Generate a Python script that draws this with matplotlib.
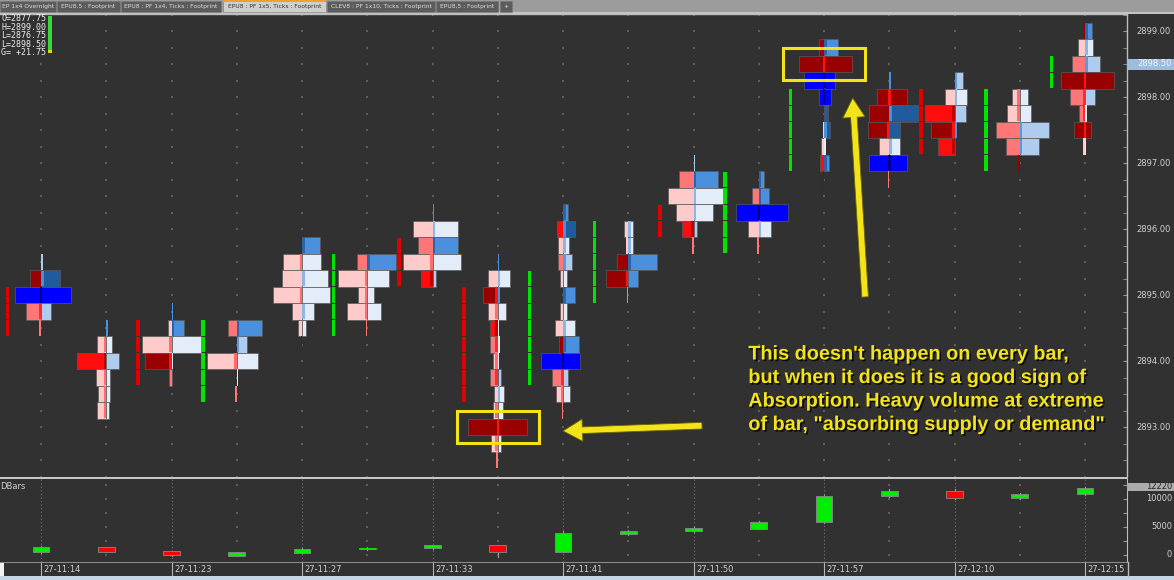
import numpy as np
import matplotlib
matplotlib.use("Agg")
import matplotlib.pyplot as plt
from matplotlib.patches import Rectangle
from matplotlib.ticker import FormatStrFormatter, MultipleLocator, FixedLocator
from matplotlib.transforms import blended_transform_factory
from matplotlib import patheffects as pe

# ---------------------------------------------------------------------------
# data
# footprint rows per bar: (price, bid volume, ask volume, bid level, ask level)
# level 0..3 = imbalance strength, 4 = buy volume node, 5 = sell volume node
# ---------------------------------------------------------------------------
BAR_00 = [(2895.50, 0, 15, 0, 1), (2895.25, 110, 190, 3, 3), (2895.00, 260, 300, 4, 4),
          (2894.75, 150, 100, 1, 1), (2894.50, 20, 0, 1, 0)]
BAR_01 = [(2894.50, 0, 15, 0, 2), (2894.25, 90, 60, 0, 0), (2894.00, 290, 130, 2, 1),
          (2893.75, 100, 40, 0, 0), (2893.50, 80, 40, 0, 0), (2893.25, 90, 30, 0, 0)]
BAR_02 = [(2894.75, 0, 15, 0, 2), (2894.50, 40, 127, 0, 2), (2894.25, 300, 290, 0, 0),
          (2894.00, 270, 10, 3, 0), (2893.75, 30, 0, 1, 0)]
BAR_03 = [(2894.50, 90, 250, 1, 2), (2894.25, 0, 100, 0, 1), (2894.00, 300, 210, 0, 0),
          (2893.75, 0, 15, 0, 0), (2893.50, 15, 0, 1, 0)]
BAR_04 = [(2895.75, 15, 180, 3, 2), (2895.50, 190, 190, 0, 0), (2895.25, 200, 260, 0, 0),
          (2895.00, 290, 280, 0, 0), (2894.75, 100, 120, 0, 0), (2894.50, 40, 40, 0, 0),
          (2894.25, 15, 0, 3, 0)]
BAR_05 = [(2895.50, 100, 290, 1, 2), (2895.25, 290, 220, 0, 0), (2895.00, 90, 70, 0, 0),
          (2894.75, 200, 140, 0, 0), (2894.50, 15, 0, 1, 0)]
BAR_06 = [(2896.25, 0, 15, 0, 2), (2896.00, 200, 250, 0, 0), (2895.75, 150, 250, 1, 2),
          (2895.50, 300, 280, 0, 0), (2895.25, 120, 30, 2, 1)]
BAR_07 = [(2895.50, 0, 15, 0, 2), (2895.25, 100, 120, 0, 0), (2895.00, 150, 20, 3, 2),
          (2894.75, 100, 80, 0, 0), (2894.50, 80, 10, 2, 0), (2894.25, 80, 20, 1, 0),
          (2894.00, 50, 10, 0, 0), (2893.75, 80, 30, 1, 1), (2893.50, 40, 60, 0, 0),
          (2893.25, 50, 50, 0, 0), (2893.00, 300, 290, 5, 5), (2892.75, 70, 30, 0, 0),
          (2892.50, 15, 0, 1, 0)]
BAR_08 = [(2896.25, 0, 50, 0, 2), (2896.00, 60, 120, 2, 3), (2895.75, 50, 60, 0, 0),
          (2895.50, 50, 90, 1, 1), (2895.25, 30, 40, 0, 0), (2895.00, 0, 120, 0, 2),
          (2894.75, 30, 40, 0, 0), (2894.50, 80, 120, 0, 0), (2894.25, 40, 160, 3, 2),
          (2894.00, 220, 170, 4, 4), (2893.75, 110, 50, 1, 1), (2893.50, 70, 70, 0, 0),
          (2893.25, 15, 0, 1, 0)]
BAR_09 = [(2896.00, 40, 50, 0, 0), (2895.75, 20, 50, 0, 0), (2895.50, 110, 290, 3, 2),
          (2895.25, 220, 100, 3, 2), (2895.00, 15, 0, 1, 0)]
BAR_10 = [(2897.00, 0, 15, 0, 1), (2896.75, 150, 240, 1, 2), (2896.50, 260, 290, 0, 0),
          (2896.25, 180, 190, 0, 0), (2896.00, 120, 30, 2, 1), (2895.75, 15, 0, 1, 0)]
BAR_11 = [(2896.75, 0, 50, 0, 2), (2896.50, 70, 100, 1, 2), (2896.25, 230, 290, 4, 4),
          (2896.00, 110, 120, 0, 0), (2895.75, 15, 0, 1, 0)]
BAR_12 = [(2898.75, 50, 140, 3, 2), (2898.50, 250, 280, 5, 5), (2898.25, 200, 110, 4, 4),
          (2898.00, 50, 70, 4, 4), (2897.75, 0, 40, 0, 3), (2897.50, 10, 60, 0, 3),
          (2897.25, 30, 20, 0, 0), (2897.00, 40, 50, 2, 2), (2896.75, 15, 0, 3, 0)]
BAR_13 = [(2898.25, 0, 15, 0, 2), (2898.00, 120, 180, 5, 5), (2897.75, 200, 290, 3, 3),
          (2897.50, 210, 110, 3, 3), (2897.25, 100, 110, 0, 0), (2897.00, 200, 180, 4, 4),
          (2896.75, 15, 0, 1, 0)]
BAR_14 = [(2898.25, 0, 80, 0, 1), (2898.00, 100, 120, 0, 0), (2897.75, 300, 110, 2, 1),
          (2897.50, 240, 20, 3, 2), (2897.25, 170, 0, 2, 0)]
BAR_15 = [(2898.00, 80, 80, 0, 0), (2897.75, 130, 110, 0, 0), (2897.50, 240, 290, 1, 1),
          (2897.25, 140, 190, 1, 1), (2897.00, 15, 0, 3, 0)]
BAR_16 = [(2899.00, 20, 70, 3, 2), (2898.75, 70, 80, 0, 0), (2898.50, 130, 150, 1, 1),
          (2898.25, 240, 290, 5, 5), (2898.00, 150, 100, 1, 1), (2897.75, 60, 20, 1, 0),
          (2897.50, 110, 60, 5, 5), (2897.25, 20, 10, 0, 0)]
FOOTPRINTS = [BAR_00, BAR_01, BAR_02, BAR_03, BAR_04, BAR_05, BAR_06, BAR_07, BAR_08,
              BAR_09, BAR_10, BAR_11, BAR_12, BAR_13, BAR_14, BAR_15, BAR_16]

# open / close body markers (None = not drawn)
BODY_OPEN = [2895.00, None, 2894.50, 2893.50, None, 2894.50, 2895.75, 2895.00, 2893.75,
             2895.00, 2896.25, 2895.75, 2897.00, None, 2898.00, 2897.00, 2898.25]
BODY_CLOSE = [2894.50, None, 2893.75, 2894.50, None, 2895.50, 2895.25, 2893.50, 2895.25,
              2896.00, 2896.00, 2896.75, 2898.00, None, 2897.25, 2898.00, 2898.50]

# lower study (delta bars)
DB_OPEN = [500, 1400, 700, -100, 400, 1100, 1200, 1700, 500, 3800, 4200, 4700, 5900,
           10500, 11400, 10100, 10900]
DB_CLOSE = [1400, 600, -50, 450, 1100, 1250, 1700, 500, 3900, 4300, 4800, 5900, 10500,
            11400, 10100, 10900, 12000]
DB_HIGH = [1550, 1450, 750, 500, 1200, 1350, 1800, 1750, 4300, 4500, 5000, 6000, 10800,
           11700, 11700, 11100, 12220]
DB_LOW = [350, 500, -200, -200, 300, 950, 1100, -300, 450, 3600, 4100, 4600, 5800,
          10300, 10000, 10000, 10800]

TIME_LABEL_BARS = [0, 2, 4, 6, 8, 10, 12, 14, 16]
TIME_LABELS = ["27-11:14", "27-11:23", "27-11:27", "27-11:33", "27-11:41",
               "27-11:50", "27-11:57", "27-12:10", "27-12:15"]

PRICE_TICKS = [2893, 2894, 2895, 2896, 2897, 2898, 2899]
DB_TICKS = [0, 5000, 10000]
LAST_PRICE = 2898.50
LAST_DB = 12220

ABSORPTION = [(7, 2893.00), (12, 2898.50)]
HEADER = ["O=2877.75", "H=2899.00", "L=2876.75", "L=2898.50", "G= +21.75"]
TABS = ["EP 1x4 Overnight", "EPU8,5 : Footprint", "EPU8 : PF 1x4, Ticks : Footprint",
        "EPU8 : PF 1x5, Ticks : Footprint", "CLEV8 : PF 1x10, Ticks : Footprint",
        "EPU8,5 : Footprint", "+"]
NOTE = ("This doesn't happen on every bar,\n"
        "but when it does it is a good sign of\n"
        "Absorption. Heavy volume at extreme\n"
        "of bar, \"absorbing supply or demand\"")

# ---------------------------------------------------------------------------
# layout / style
# ---------------------------------------------------------------------------
W, H = 1174, 580
BAR_PX = 65.25          # pixels per bar
PX_PER_PT = 66.0        # pixels per 1.00 of price
VOL_SCALE = 1 / 652.5   # bar units per contract
ROW = 0.25

BG = "#313131"
GRID = "#5e5e5e"
TXT = "#d2d2d2"
YEL = "#f3e41a"
RED = ["#ffcaca", "#ff7676", "#ff0d0d", "#9b0000"]
BLUE = ["#e3edf9", "#afcbee", "#4b90dc", "#1f5b9d"]
STRIPE_RED = ["#ff6c6c", "#ff2a2a", "#c00000", "#ff1414"]
STRIPE_BLUE = ["#8cb6ea", "#5c98de", "#2a64aa", "#4b90dc"]
NODE = {4: ("#0000ff", "#00008c"), 5: ("#990000", "#ff1414")}
EDGE = "#5a5a5a"

fig = plt.figure(figsize=(W / 100, H / 100), dpi=100)
fig.patch.set_facecolor(BG)

x_left = -41 / BAR_PX
x_right = (1127 - 41) / BAR_PX

# ---------------- main footprint panel ----------------
ax = fig.add_axes([0, 104 / H, 1127 / W, 462 / H])
ax.set_facecolor(BG)
ax.set_xlim(x_left, x_right)
ax.set_ylim(2899 - 445 / PX_PER_PT, 2899 + 17 / PX_PER_PT)
for s in ["left", "bottom"]:
    ax.spines[s].set_visible(False)
for s in ["right", "top"]:
    ax.spines[s].set_color("#bdbdbd")
    ax.spines[s].set_linewidth(1.0)
ax.set_xticks([])
ax.yaxis.tick_right()
ax.yaxis.set_major_locator(FixedLocator(PRICE_TICKS))
ax.yaxis.set_major_formatter(FormatStrFormatter("%.2f"))
ax.yaxis.set_minor_locator(MultipleLocator(0.25))
ax.tick_params(axis="y", which="both", direction="in", length=3, color="#9a9a9a",
               labelsize=6, labelcolor=TXT, pad=7)

# background dots
n_bars = len(FOOTPRINTS)
gx, gy = np.meshgrid(np.arange(n_bars), np.arange(2892.25, 2899.3, 0.25))
ax.scatter(gx.ravel(), gy.ravel(), s=0.8, marker="s", c=GRID, lw=0, zorder=1)

px = 1 / BAR_PX
for i, rows in enumerate(FOOTPRINTS):
    for price, bid, ask, bl, al in rows:
        y0 = price - ROW / 2
        if bl in NODE:
            bc = ac = NODE[bl][0]
        else:
            bc, ac = RED[bl], BLUE[al]
        for x, w, c in ((i - bid * VOL_SCALE, bid * VOL_SCALE, bc),
                        (i, ask * VOL_SCALE, ac)):
            if w <= 0:
                continue
            thin = w < 2.5 * px
            ax.add_patch(Rectangle((x, y0), w, ROW, fc=c,
                                   ec="none" if thin else EDGE, lw=0.5, zorder=3))
        if max(bid, ask) >= 50:
            sw = 2.5 * px
            if bl in NODE:
                sx, sc = i - sw / 2, NODE[bl][1]
            elif bid >= ask:
                sx, sc = i - sw, STRIPE_RED[bl]
            else:
                sx, sc = i, STRIPE_BLUE[al]
            ax.add_patch(Rectangle((sx, y0 + 0.6 / PX_PER_PT), sw, ROW - 1.2 / PX_PER_PT,
                                   fc=sc, ec="none", zorder=4))

# open/close body markers left of each bar
gap = 0.45 / PX_PER_PT
for i, (o, c) in enumerate(zip(BODY_OPEN, BODY_CLOSE)):
    if o is None:
        continue
    col = "#00e400" if c > o else "#e00000"
    lo, hi = min(o, c), max(o, c)
    for p in np.arange(lo, hi + 0.01, ROW):
        ax.add_patch(Rectangle((i - 0.515 - 1.8 * px, p - ROW / 2 + gap), 3.6 * px,
                               ROW - 2 * gap, fc=col, ec="none", zorder=3))

# absorption boxes
for b, p in ABSORPTION:
    ax.add_patch(Rectangle((b - 0.63, p - 0.245), 1.26, 0.49, fill=False, ec=YEL,
                           lw=2.2, zorder=6))

arrow = dict(arrowstyle="simple,head_length=1.0,head_width=1.15,tail_width=0.34",
             mutation_scale=14, fc=YEL, ec="#6b6200", lw=0.6, shrinkA=0, shrinkB=0)
ax.annotate("", xy=(8.0, 2892.94), xytext=(10.13, 2893.02), arrowprops=arrow, zorder=7)
ax.annotate("", xy=(12.44, 2897.985), xytext=(12.63, 2894.97), arrowprops=arrow, zorder=7)

ax.text(10.84, 2894.25, NOTE, color=YEL, fontsize=14.3, fontweight="bold",
        family="Liberation Sans", va="top", ha="left", linespacing=1.3, zorder=8,
        path_effects=[pe.withSimplePatchShadow(offset=(1.2, -1.2),
                                               shadow_rgbFace="black", alpha=0.75)])

# last price marker on the scale
ax.add_patch(Rectangle((1.0, LAST_PRICE - 5.5 / PX_PER_PT), 47 / 1127, 11 / PX_PER_PT,
                       transform=blended_transform_factory(ax.transAxes, ax.transData),
                       fc="#9dbbdb", ec="none", clip_on=False, zorder=5))
ax.text(1137 / 1127, LAST_PRICE, f"{LAST_PRICE:.2f}", fontsize=6, color="#f4f6f8",
        va="center", ha="left",
        transform=blended_transform_factory(ax.transAxes, ax.transData), zorder=6)

# header values, top left
for k, line in enumerate(HEADER):
    fig.text(1 / W, 1 - (18.5 + 8.6 * k) / H, line, family="DejaVu Sans Mono", fontsize=6,
             color="#ececec", va="center", ha="left")
fig.patches.append(Rectangle((48 / W, 1 - 53 / H), 3.5 / W, 37 / H, transform=fig.transFigure,
                             fc="#39d839", ec="none"))
fig.patches.append(Rectangle((48 / W, 1 - 53 / H), 3.5 / W, 3 / H, transform=fig.transFigure,
                             fc="#d8d820", ec="none"))

# ---------------- lower delta bars panel ----------------
ax2 = fig.add_axes([0, 18 / H, 1127 / W, 83 / H])
ax2.set_facecolor(BG)
ax2.set_xlim(x_left, x_right)
ax2.set_ylim(-1250, 13570)
for s in ["left", "top"]:
    ax2.spines[s].set_visible(False)
ax2.spines["right"].set_color("#bdbdbd")
ax2.spines["bottom"].set_color("#8a8a8a")
ax2.set_xticks([])
ax2.yaxis.tick_right()
ax2.yaxis.set_major_locator(MultipleLocator(2500))
ax2.tick_params(axis="y", direction="in", length=3, color="#9a9a9a", labelright=False)

for i in range(n_bars):
    if i in TIME_LABEL_BARS:
        ax2.axvline(i, color="#777777", lw=0.8, ls=(0, (1, 2.2)), zorder=1)
    else:
        ax2.scatter([i] * 6, np.arange(0, 12600, 2500), s=0.8, marker="s", c=GRID,
                    lw=0, zorder=1)

body_w = 0.26
for i in range(n_bars):
    o, c = DB_OPEN[i], DB_CLOSE[i]
    ax2.plot([i, i], [DB_LOW[i], DB_HIGH[i]], color="#a0a0a0", lw=0.8, zorder=2)
    col = "#00ee00" if c >= o else "#ff0000"
    h = abs(c - o)
    ax2.add_patch(Rectangle((i - body_w / 2, min(o, c)), body_w, max(h, 120),
                            fc=col, ec="#8a8a8a" if h > 300 else col, lw=0.6, zorder=3))

ytr = blended_transform_factory(ax2.transAxes, ax2.transData)
for v in DB_TICKS:
    ax2.text(1172 / 1127, v, str(v), transform=ytr, fontsize=6, color=TXT,
             ha="right", va="center")
ax2.add_patch(Rectangle((1.0, LAST_DB - 720), 47 / 1127, 1440, transform=ytr,
                        fc="#ababab", ec="none", clip_on=False, zorder=5))
ax2.text(1172 / 1127, LAST_DB, str(LAST_DB), transform=ytr, fontsize=6, color="#262626",
         ha="right", va="center", zorder=6)
ax2.text(0.0, 0.96, "DBars", transform=ax2.transAxes, fontsize=6, color=TXT,
         ha="left", va="top")

# time axis
xtr = blended_transform_factory(ax2.transData, ax2.transAxes)
for b, lab in zip(TIME_LABEL_BARS, TIME_LABELS):
    ax2.plot([b, b], [0, -14 / 83], transform=xtr, clip_on=False, color="#b4b4b4", lw=0.8)
    ax2.text(b + 2.5 * px, -7 / 83, lab, transform=xtr, fontsize=6, color=TXT,
             ha="left", va="center")

# ---------------- frame pieces ----------------
# separator between panels
fig.add_artist(plt.Line2D([0, 1127 / W], [1 - 477.5 / H] * 2, transform=fig.transFigure,
                          color="#e6e6e6", lw=1.2))
# right scale border through the time row
fig.add_artist(plt.Line2D([1127.5 / W] * 2, [4 / H, 18 / H], transform=fig.transFigure,
                          color="#bdbdbd", lw=1.0))
fig.patches.append(Rectangle((0, 4 / H), 4 / W, 13 / H, transform=fig.transFigure,
                             fc="#f2f2f2", ec="none"))
# bottom strip
fig.patches.append(Rectangle((0, 0), 1, 4 / H, transform=fig.transFigure,
                             fc="#c6d6e6", ec="none"))

# tab bar
fig.patches.append(Rectangle((0, 1 - 12 / H), 1, 12 / H, transform=fig.transFigure,
                             fc="#9c9c9c", ec="none"))
fig.patches.append(Rectangle((0, 1 - 14 / H), 1, 2 / H, transform=fig.transFigure,
                             fc="#c4c4c4", ec="none"))
tab_edges = [(0, 56), (57, 120), (121, 221), (223, 326), (327, 435), (436, 498), (500, 512)]
for k, (label, (a, b)) in enumerate(zip(TABS, tab_edges)):
    active = k == 3
    fig.patches.append(Rectangle((a / W, 1 - 12 / H), (b - a) / W, 11 / H,
                                 transform=fig.transFigure,
                                 fc="#cfcfcf" if active else "#5c5c5c", ec="#7a7a7a", lw=0.4))
    if active:
        fig.patches.append(Rectangle((a / W, 1 - 2 / H), (b - a) / W, 2 / H,
                                     transform=fig.transFigure, fc="#f0a030", ec="none"))
    fig.text((a + b) / 2 / W, 1 - 6.5 / H, label, fontsize=4.3,
             color="#303030" if active else "#dedede", ha="center", va="center")

fig.savefig("out.png", dpi=100, facecolor=fig.get_facecolor())
